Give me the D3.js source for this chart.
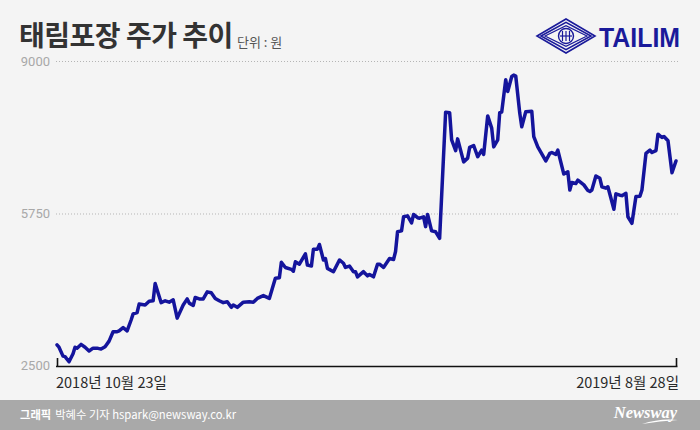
<!DOCTYPE html>
<html><head><meta charset="utf-8">
<script src="https://cdn.jsdelivr.net/npm/d3@7"></script>
<style>html,body{margin:0;padding:0;background:#f4f4f4;}svg{display:block;}</style>
</head><body>
<svg id="c" width="700" height="430"></svg>
<script>
const startDate = "2018-10-23";
const endDate = "2019-08-28";
const dayOffsets = [0,1,3,4,6,8,9,10,12,14,16,18,20,22,24,26,28,30,31,33,35,37,38,40,41,44,46,48,49,50,52,54,56,58,60,63,65,66,68,69,71,73,75,77,79,81,83,85,87,88,90,93,96,98,100,103,106,109,111,112,114,117,118,119,121,124,125,127,128,130,131,133,134,135,138,141,143,144,146,148,149,150,153,155,156,158,160,161,163,166,168,169,170,172,173,175,177,178,180,181,183,184,185,187,189,191,194,196,197,199,200,203,205,206,208,210,212,213,215,217,218,220,221,222,224,225,227,228,229,231,232,234,237,238,240,244,246,247,249,250,253,255,256,257,259,260,263,265,266,267,269,271,272,274,275,278,279,281,282,284,285,287,289,291,292,294,296,297,299,300,302,303,305,307,309];
const prices = [2950,2900,2710,2700,2590,2760,2900,2880,2960,2900,2820,2880,2880,2860,2910,3030,3230,3230,3250,3320,3250,3480,3610,3640,3820,3800,3880,3890,4260,4120,3850,3890,3860,3910,3520,3800,3930,3840,3790,3960,3930,3930,4080,4060,3940,3890,3850,3870,3750,3800,3750,3860,3870,3860,3940,4000,3940,4370,4380,4710,4600,4560,4520,4720,4670,4890,4650,4630,4990,4990,5090,4760,4790,4580,4510,4760,4690,4600,4630,4510,4510,4400,4510,4420,4450,4400,4670,4670,4600,4790,4770,4940,5360,5380,5680,5700,5550,5730,5660,5650,5680,5470,5730,5380,5360,5220,7910,7900,7320,7090,7340,6850,6930,7160,7200,6960,7100,7010,7830,7570,7170,7320,7900,7910,8600,8350,8670,8700,8680,7890,7600,7920,7930,7390,7170,6870,7030,7050,7010,7100,6590,6640,6250,6410,6390,6460,6360,6240,6220,6250,6550,6500,6320,6290,6320,5840,6170,6140,6130,6180,5680,5540,6110,6120,6250,7030,7100,7050,7090,7440,7370,7390,7300,6620,6870];
const yTicks = [2500, 5750, 9000];
const xLabels = ["2018년 10월 23일", "2019년 8월 28일"];
const titleText = "태림포장 주가 추이";
const unitText = "단위 : 원";
const creditBold = "그래픽";
const creditText = "박혜수 기자 hspark@newsway.co.kr";

const svg = d3.select("#c");
const kr = "'Noto Sans CJK KR','Noto Sans',sans-serif";
const parse = d3.timeParse("%Y-%m-%d");
const d0 = parse(startDate), d1 = parse(endDate);
const n = Math.min(dayOffsets.length, prices.length);
const data = d3.range(n).map(i => ({date: d3.timeDay.offset(d0, dayOffsets[i]), v: prices[i]}));

svg.append("rect").attr("width",700).attr("height",430).attr("fill","#f4f4f4");

const x = d3.scaleTime().domain([d0, d1]).range([57, 676]);
const y = d3.scaleLinear().domain([2500, 9000]).range([366, 61]);

// grid
const grid = svg.append("g");
grid.selectAll("line").data(yTicks.filter(t => t !== 2500)).join("line")
  .attr("x1", 56).attr("x2", 680)
  .attr("y1", d => y(d)+0.5).attr("y2", d => y(d)+0.5)
  .attr("stroke", "#b5b5b5").attr("stroke-width", 1).attr("stroke-dasharray", "1,2");

// y labels
svg.append("g").selectAll("text").data(yTicks).join("text")
  .attr("x", 50).attr("y", d => y(d) === 366 ? 365 : y(d)).attr("dy", "0.36em")
  .attr("text-anchor", "end").attr("fill", "#a8a8a8")
  .attr("font-family", "'Roboto','Noto Sans',sans-serif").attr("font-size", 13)
  .text(d => d);

// x axis
const xAxis = d3.axisBottom(x).tickValues([d0, d1]).tickSize(-8).tickFormat(() => "");
const ag = svg.append("g").attr("transform", "translate(0,366)").call(xAxis);
ag.select(".domain").remove();
ag.append("line").attr("x1", 56).attr("x2", 677.5).attr("y1", 0.5).attr("y2", 0.5).attr("stroke", "#111").attr("stroke-width", 1.6);
ag.selectAll(".tick line").attr("stroke", "#111").attr("stroke-width", 1.6);

svg.append("text").attr("x", 56).attr("y", 388).attr("font-family", kr).attr("font-size", 14.5)
  .attr("fill", "#2a2a2a").text(xLabels[0]);
svg.append("text").attr("x", 679).attr("y", 388).attr("text-anchor", "end").attr("font-family", kr).attr("font-size", 14.5)
  .attr("fill", "#2a2a2a").text(xLabels[1]);

// line
const line = d3.line().x(d => x(d.date)).y(d => y(d.v)).curve(d3.curveLinear);
svg.append("path").datum(data).attr("d", line).attr("fill", "none")
  .attr("stroke", "#14149c").attr("stroke-width", 3.5).attr("stroke-linejoin", "round").attr("stroke-linecap", "round");

// title
svg.append("text").attr("x", 19).attr("y", 46).attr("font-family", kr).attr("font-weight", 700)
  .attr("font-size", 28).attr("fill", "#333").attr("letter-spacing", "-0.5").text(titleText);
svg.append("text").attr("x", 237).attr("y", 47).attr("font-family", kr).attr("font-size", 13)
  .attr("fill", "#555").text(unitText);

// logo
const logo = svg.append("g").attr("transform", "translate(566,36)");
const blue = "#1a1a9a";
[[29,17],[25,13.6],[21,10.4]].forEach(([w,h],i) => {
  logo.append("path").attr("d", `M${-w},0 L0,${-h} L${w},0 L0,${h} Z`)
    .attr("fill", "none").attr("stroke", blue).attr("stroke-width", i===2?1.2:1.6);
});
logo.append("circle").attr("r", 7.5).attr("fill", "none").attr("stroke", blue).attr("stroke-width", 1.4);
[-3.5, 0, 3.5].forEach(dx => logo.append("line").attr("x1", dx).attr("x2", dx).attr("y1", -5).attr("y2", 5).attr("stroke", blue).attr("stroke-width", 1.2));
logo.append("line").attr("x1", -6).attr("x2", 6).attr("y1", 0).attr("y2", 0).attr("stroke", blue).attr("stroke-width", 1.2);
svg.append("text").attr("x", 599).attr("y", 47).attr("font-family", "'Liberation Sans','Arial',sans-serif").attr("font-weight", 700)
  .attr("font-size", 27).attr("fill", blue).attr("textLength", 81).attr("lengthAdjust", "spacingAndGlyphs").text("TAILIM");

// footer
svg.append("rect").attr("x", 0).attr("y", 400).attr("width", 700).attr("height", 30).attr("fill", "#a9a9a9");
const ft = svg.append("text").attr("x", 20).attr("y", 419).attr("font-family", kr).attr("font-size", 11.3).attr("fill", "#fff");
ft.append("tspan").attr("font-weight", 700).text(creditBold);
ft.append("tspan").attr("dx", 4).text(creditText);
svg.append("text").attr("x", 677).attr("y", 418).attr("text-anchor", "end")
  .attr("font-family", "'Liberation Serif','DejaVu Serif',serif").attr("font-style", "italic").attr("font-weight", 700)
  .attr("font-size", 16.5).attr("fill", "#fff").text("Newsway");
svg.append("path").attr("d", "M642,424 Q660,418 678,420 Q660,421 642,424 Z").attr("fill", "#fff");
</script>
</body></html>
